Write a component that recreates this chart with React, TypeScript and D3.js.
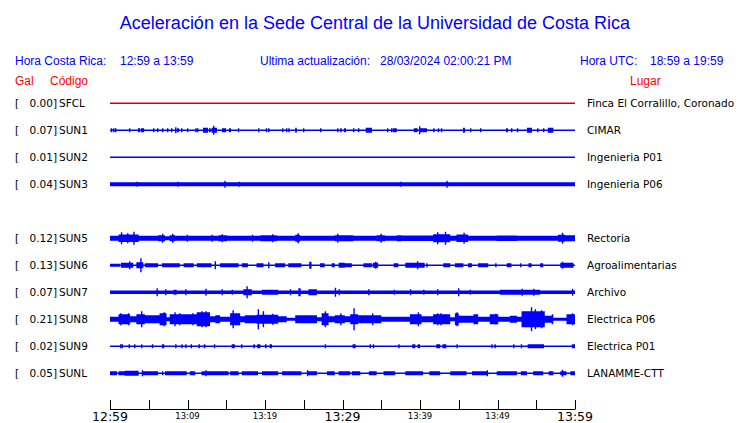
import React from "react";
import * as d3 from "d3";

// ---- data ----
const slots = ["SFCL", "SUN1", "SUN2", "SUN3", "SUN4", "SUN5", "SUN6", "SUN7", "SUN8", "SUN9", "SUNL"];
const codes = ["SFCL", "SUN1", "SUN2", "SUN3", "SUN5", "SUN6", "SUN7", "SUN8", "SUN9", "SUNL"];
const gals = ["0.00", "0.07", "0.01", "0.04", "0.12", "0.13", "0.07", "0.21", "0.02", "0.05"];
const places = [
  "Finca El Corralillo, Coronado",
  "CIMAR",
  "Ingenieria P01",
  "Ingenieria P06",
  "Rectoria",
  "Agroalimentarias",
  "Archivo",
  "Electrica P06",
  "Electrica P01",
  "LANAMME-CTT",
];
const tickMinutes = [0, 5, 10, 15, 20, 25, 30, 35, 40, 45, 50, 55, 60];
const tickLabels = ["12:59", "", "13:09", "", "13:19", "", "13:29", "", "13:39", "", "13:49", "", "13:59"];
const majorLabels = ["12:59", "13:29", "13:59"];

// events: [startMinute, endMinute, amplitude]
const sfcl: number[][] = [];
const sun1 = [[0.1,0.2,2],[0.4,0.4,2],[0.65,0.65,2],[2.45,2.45,2],[3.6,3.9,2],[4.0,4.4,2],[5.55,5.55,2],[6.06,6.06,2],[6.7,6.7,2],[7.35,7.35,2],[7.87,7.87,2],[8.4,8.4,3],[8.65,8.9,2],[9.16,9.16,2],[9.94,9.94,2],[11,11,2],[11.23,11.23,2],[12,12.65,2.5],[12.77,13,2],[13.1,13.8,2.5],[13.3,13.3,4.5],[14.45,14.97,2],[15.35,15.61,2],[16.5,16.5,2],[19.1,19.1,2],[20.1,20.1,2],[20.4,20.5,2],[22.2,22.2,2],[22.7,22.7,2],[23,23,2],[23.9,24.1,2.5],[24.9,24.9,2],[27.1,27.1,2],[29.3,29.3,2],[29.7,29.9,2],[30.2,30.45,2],[31.35,31.35,2],[32,32,2],[33,33.8,2.5],[35.74,35.74,2],[36.26,36.26,2],[36.5,37,2],[39.2,39.7,2],[39.87,39.87,4],[40,40.9,2],[41.7,41.7,2],[42.3,42.3,2],[42.7,42.7,2],[45.55,45.8,2.5],[46.45,46.45,2],[47.74,47.74,2],[51.1,51.35,2],[51.74,51.74,2],[52.5,52.5,2],[53.8,54.45,2.5],[55.1,55.1,2],[55.87,55.87,2],[56.5,57.2,2.5]];
const sun2: number[][] = [];
const sun3 = [[0,60,2],[3.4,3.4,2.5],[8.7,8.7,2.5],[14.75,14.75,3.5],[16.6,16.6,2.5],[37.4,37.4,2.5],[43.4,43.4,3.5]];
const sun5 = [[0,1.1,2.5],[1.1,3.7,3.8],[3.7,6.2,2.5],[6.2,7.1,3],[7.1,7.7,2],[7.7,8.4,3],[8.4,14,2.5],[14,15.1,3],[15.1,19.4,2.5],[19.4,21.5,3],[21.5,23.9,2.5],[23.9,24.5,3.5],[24.5,29,2.5],[29,30.3,3],[30.3,31.4,3],[31.4,34.4,2.5],[34.4,35.5,3],[35.5,37,2.5],[37,37.6,3],[37.6,41.7,2.8],[41.7,43.9,4],[43.9,44.7,2.5],[44.7,46.2,3.8],[46.2,49.9,2.5],[49.9,52.5,2.8],[52.5,57.8,2.5],[57.8,58.7,3.5],[58.7,60,3],[1.4,1.4,6],[3,3,6.5],[2.2,2.2,5],[6.7,6.7,4.5],[8,8,4.5],[9.9,9.9,3.5],[13.1,13.1,3.5],[14.4,14.4,4],[18.3,18.3,3.5],[20.9,20.9,4],[24.2,24.2,5],[29.3,29.3,4.5],[34.9,34.9,4.5],[42.2,42.2,6],[43.2,43.2,6.5],[45.6,45.6,5.5],[58.3,58.3,5.5]];
const sun6 = [[0,1.3,1.5],[1.4,3.0,2.5],[2.45,2.45,4],[3.4,4.3,3],[3.9,3.9,7],[4.5,6.2,2],[6.7,9.0,2],[9.5,10.8,2],[11.2,13.1,2],[13.5,13.5,4],[14.2,16.6,2],[17,17.8,2],[18.9,19.8,2],[20.4,20.4,3],[21.3,22.6,2],[23,24.7,2],[25.7,26,3.5],[27.1,27.7,2],[28.6,29,2],[29.5,30.3,2.5],[29.7,31.2,2],[32.7,33.8,2],[33.9,34.6,2.5],[34.2,34.2,3.5],[36.6,37.2,2],[38.1,40.6,2.5],[39.6,39.6,4],[40.8,41,2],[43,43.9,2],[44.5,45.6,2],[46.2,46.7,2],[47.5,48.8,2],[49.7,49.7,2],[51.2,51.8,2],[52.9,52.9,2],[54,54.4,2],[55.5,55.9,2],[58.1,59.8,2.5],[58.3,58.3,3.5]];
const sun7 = [[0,60,1.8],[6.0,6.0,4],[7.1,7.1,3],[8.2,8.6,2.5],[9.7,9.7,3],[12.3,12.3,3.5],[14.4,14.4,3],[15.7,15.7,2.5],[17.2,18.3,3],[17.6,17.6,6],[19.6,21.7,2.5],[23.2,23.2,3],[24.3,24.6,4],[25.6,26.7,3],[29,29,4.5],[29.5,29.5,3],[33.3,33.3,3],[36.6,36.6,2.5],[38.7,38.7,3],[40.4,40.4,2.5],[42.2,42.2,3],[44.9,44.9,4],[46.4,46.4,2.5],[50.3,55.5,2.5],[53.1,53.1,3.5],[54.6,54.6,3.5],[59.6,59.6,3.5]];
const sun8 = [[0,1.1,2.5],[1.1,2.6,5],[2.6,3.4,3],[3.4,4.5,5],[4.5,6.4,4],[6.4,7.3,6],[7.3,7.7,2],[7.7,9.7,5],[9.7,11.2,5],[11.2,12.9,7],[12.9,13.6,3],[13.6,14.2,4],[14.2,15.5,2.5],[15.5,16.8,6],[16.8,17.4,3],[17.4,18.9,4],[18.9,21.7,4.5],[21.7,22.8,3],[22.8,23.9,1.5],[23.9,26.7,4],[26.7,27.3,2],[27.3,28.2,6],[28.2,29,3],[29,30.3,4],[30.3,31,3],[31,32,5],[32,33.1,4],[33.1,35,4],[35,38.7,2.5],[38.7,40.2,5],[40.2,41.7,3],[41.7,43.9,5],[43.9,44.5,2],[44.5,45,6],[45,46.9,3.5],[46.9,47.5,5],[47.5,49,2.5],[49,50.1,5],[50.1,51.6,2.5],[51.6,52.5,3.5],[52.5,53.1,2.5],[53.1,56.1,8],[56.1,57.2,3.5],[57.2,58.9,1.5],[58.9,60,5],[1.3,1.3,6],[2.3,2.3,6],[4,4,8],[6.9,6.9,7],[8.3,8.3,7],[8.9,8.9,6],[10.6,10.6,6],[11.8,11.8,8],[12.3,12.3,8],[15.8,15.8,9],[19.05,19.05,10],[19.7,19.7,8],[20.9,20.9,5.5],[27.7,27.7,8],[29.7,29.7,6],[31.4,31.4,11],[33.8,33.8,6],[39.7,39.7,7],[42.2,42.2,6],[42.6,42.6,6],[44.7,44.7,7],[49.7,49.7,5.5],[54.3,54.3,12],[54.8,54.8,10],[55.6,55.6,9],[57,57,5],[59.6,59.6,6]];
const sun9 = [[1.3,1.3,2],[1.5,1.5,2],[2.4,2.4,2],[3.1,3.1,2],[4.0,4.0,2],[5.4,5.4,2],[6.7,7.0,2],[8.4,8.4,2],[9.2,9.2,2],[9.7,9.7,2],[10.4,10.4,2],[11.4,11.6,2],[12.1,12.3,2],[13.4,13.4,2],[15.7,16.1,2],[16.9,16.9,2],[18.5,18.7,2],[19.0,19.4,2],[20.0,20.2,2],[20.6,20.9,2],[27.7,27.7,2],[31.3,31.7,2],[33.5,33.6,2],[33.9,34.0,2],[37.2,37.2,2],[39.0,39.4,2],[39.7,40.0,2],[42.1,42.6,2],[42.9,43.4,2],[44.7,44.7,2],[49.2,49.3,2],[49.6,49.7,2],[52.0,52.0,2],[53.0,53.1,2],[53.9,56.0,2],[59.6,60,2]];
const sunl = [[0,0.9,2],[1.1,1.9,2],[1.9,3.7,2.5],[4.1,6.2,2],[6.7,6.7,2],[7.1,9.9,2],[10.3,11,2],[11.8,15.3,2],[15.5,16.6,2],[17,19.1,2],[19.6,21.7,2],[22.2,24.7,2],[25.4,25.4,3],[25.4,26.7,2],[28,29,2],[29.5,31,2],[31.2,32.3,2],[33.4,34.4,2],[35.3,36.8,2],[38.1,40.4,2],[41.2,42.6,2],[43.9,46,2],[46.7,48.6,2],[48.6,48.6,3],[49.9,52.5,2],[53,53.8,2],[54.6,55.9,2],[56.6,57.2,2],[58.1,58.9,2],[58.3,58.3,3.5],[59.4,60,2],[4.1,4.1,3],[12.3,12.3,3]];
const traces = [sfcl, sun1, sun2, sun3, sun5, sun6, sun7, sun8, sun9, sunl];

const W = 740;
const H = 423;

export default function App() {
  const x = d3.scaleLinear().domain([0, 60]).range([110, 575]);
  const y = d3.scalePoint<string>().domain(slots).range([103.3, 373.3]);
  const a = d3.scaleLinear().domain([0, 10]).range([0, 10]);

  const blue = "#0000ff";
  const sans = "'Liberation Sans', Arial, sans-serif";
  const dv = "'DejaVu Sans', sans-serif";

  const tracePath = (ev: number[][], cy: number) => {
    const p = d3.path();
    ev.forEach(([t0, t1, v]) => {
      const x0 = x(t0);
      const w = Math.max(x(t1) - x0, 1.4);
      const h = a(v);
      p.rect(x0, cy - h, w, 2 * h);
    });
    return p.toString();
  };

  return (
    <svg width={W} height={H} style={{ position: "absolute", left: 0, top: 0, background: "#fff" }}>
      <text x={375} y={29} textAnchor="middle" fontFamily={sans} fontSize={18} fill={blue}>
        Aceleración en la Sede Central de la Universidad de Costa Rica
      </text>
      <g fontFamily={sans} fontSize={12} fill={blue}>
        <text x={15} y={64.5}>Hora Costa Rica:</text>
        <text x={120} y={64.5}>12:59 a 13:59</text>
        <text x={260} y={64.5}>Ultima actualización:</text>
        <text x={380} y={64.5}>28/03/2024 02:00:21 PM</text>
        <text x={580} y={64.5}>Hora UTC:</text>
        <text x={650} y={64.5}>18:59 a 19:59</text>
      </g>
      <g fontFamily={sans} fontSize={12} fill="#ff0000">
        <text x={15} y={84.5}>Gal</text>
        <text x={50} y={84.5}>Código</text>
        <text x={630} y={84.5}>Lugar</text>
      </g>

      {codes.map((c, i) => {
        const cy = y(c) as number;
        const col = c === "SFCL" ? "#d00000" : blue;
        return (
          <g key={c}>
            <text x={15} y={cy + 4} fontFamily={dv} fontSize={10.5} fill="#000">[</text>
            <text x={57} y={cy + 4} textAnchor="end" fontFamily={dv} fontSize={10.5} fill="#000">{gals[i] + "]"}</text>
            <text x={59} y={cy + 4} fontFamily={dv} fontSize={10.5} fill="#000">{c}</text>
            <line x1={x(0)} x2={x(60)} y1={cy} y2={cy} stroke={col} strokeWidth={1.6} />
            <path d={tracePath(traces[i], cy)} fill={col} />
            <text x={587} y={cy + 4} fontFamily={dv} fontSize={10.5} fill="#000">{places[i]}</text>
          </g>
        );
      })}

      <g>
        <line x1={x(0)} x2={x(60)} y1={409.5} y2={409.5} stroke="#000" strokeWidth={1} />
        {tickMinutes.map((m, i) => (
          <g key={m}>
            <line x1={Math.round(x(m)) + 0.5} x2={Math.round(x(m)) + 0.5} y1={400} y2={409.5} stroke="#000" strokeWidth={1} />
            {tickLabels[i] && (
              <text
                x={x(m)}
                y={majorLabels.includes(tickLabels[i]) ? 421 : 418.5}
                textAnchor="middle"
                fontFamily={dv}
                fontSize={majorLabels.includes(tickLabels[i]) ? 12.5 : 8.5}
                fill="#000"
              >
                {tickLabels[i]}
              </text>
            )}
          </g>
        ))}
      </g>
    </svg>
  );
}
